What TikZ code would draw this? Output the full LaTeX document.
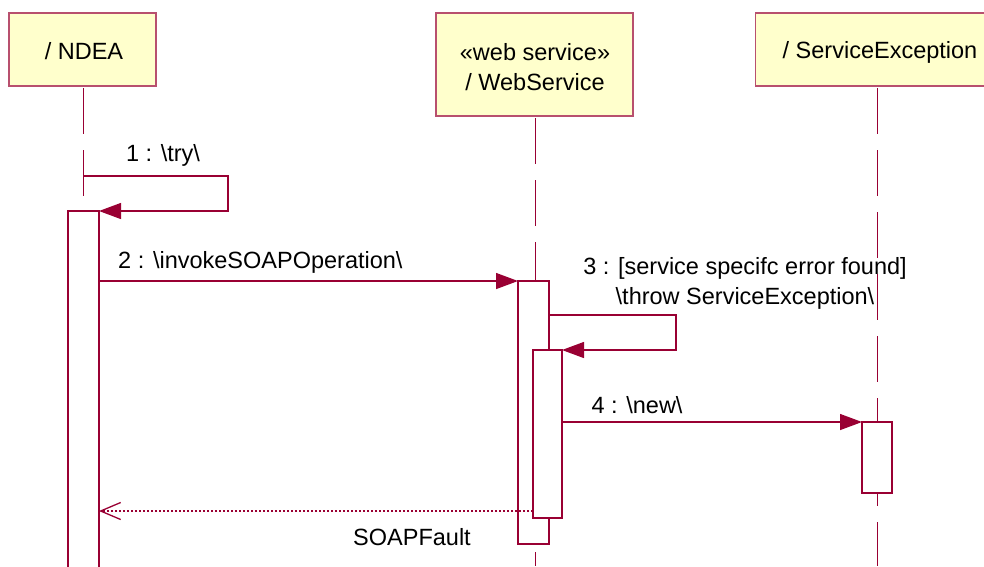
\documentclass[tikz,border=0pt]{standalone}
\usepackage{fontspec}
\setmainfont{Liberation Sans}
\usetikzlibrary{arrows.meta}
\definecolor{uml}{HTML}{990033}
\definecolor{boxline}{HTML}{B8506E}
\definecolor{boxfill}{HTML}{FFFFCC}
\begin{document}
\begin{tikzpicture}[x=1pt,y=-1pt,
  lifebox/.style={draw=boxline,fill=boxfill,line width=1.2pt,inner sep=0pt},
  lifeline/.style={draw=uml,line width=1pt,dash pattern=on 46pt off 16pt},
  actbox/.style={draw=uml,fill=white,line width=1.6pt},
  msg/.style={draw=uml,line width=1.3pt,-{Triangle[length=22pt,width=16pt]}},
  ret/.style={draw=uml,line width=1.2pt,dash pattern=on 2pt off 2pt,-{Straight Barb[length=20pt,width=17pt,line width=1.3pt]}},
  lbl/.style={font=\fontsize{23.5}{30}\selectfont,inner sep=0pt,align=center}]
\useasboundingbox (0,0) rectangle (984,566);
\begin{scope}
\clip (0,0) rectangle (984,566);
% lifeline heads
\node[lifebox,minimum width=147pt,minimum height=73pt] (ndea) at (82.5,49.5) {};
\node[lbl] (ndealbl) at (84,51) {/ NDEA};
\node[lifebox,minimum width=197pt,minimum height=103pt] (ws) at (534.5,64.5) {};
\node[lbl] (wslbl) at (535,67) {«web service»\\/ WebService};
\node[lifebox,minimum width=250pt,minimum height=73pt,anchor=west] (se) at (755,49.5) {};
\node[lbl] (selbl) at (880,52) {/ ServiceException};
% lifelines
\coordinate (wsE) at (535,566);
\coordinate (seE) at (877,566);
\draw[lifeline] (83,88) -- (83,211);
\draw[lifeline] (535,118) -- (wsE);
\draw[lifeline] (877,88) -- (seE);
% activations
\draw[actbox] (68,211) rectangle (99,580);
\draw[actbox] (518,281) rectangle (549,544);
\draw[actbox] (533,350) rectangle (562,518);
\draw[actbox] (862,422) rectangle (892,493);
% message 1
\coordinate (m1a) at (83,176);
\coordinate (m1b) at (228,176);
\coordinate (m1c) at (228,211);
\coordinate (m1d) at (99,211);
\draw[msg] (m1a) -- (m1b) -- (m1c) -- (m1d);
\node[lbl] (l1) at (163,155) {1 : \textbackslash try\textbackslash};
% message 2
\coordinate (m2a) at (99,281);
\coordinate (m2b) at (518,281);
\draw[msg] (m2a) -- (m2b);
\node[lbl,anchor=west] (l2) at (118,262) {2 : \textbackslash invokeSOAPOperation\textbackslash};
% message 3
\coordinate (m3a) at (549,315);
\coordinate (m3b) at (676,315);
\coordinate (m3c) at (676,350);
\coordinate (m3d) at (562,350);
\draw[msg] (m3a) -- (m3b) -- (m3c) -- (m3d);
\node[lbl] (l3) at (745,283) {3 : [service specifc error found]\\\textbackslash throw ServiceException\textbackslash};
% message 4
\coordinate (m4a) at (562,422);
\coordinate (m4b) at (862,422);
\draw[msg] (m4a) -- (m4b);
\node[lbl] (l4) at (637,405) {4 : \textbackslash new\textbackslash};
% return
\coordinate (r1) at (533,511);
\coordinate (r2) at (99,511);
\draw[ret] (r1) -- (r2);
\node[lbl] (l5) at (412,537) {SOAPFault};
\end{scope}
\end{tikzpicture}
\end{document}
